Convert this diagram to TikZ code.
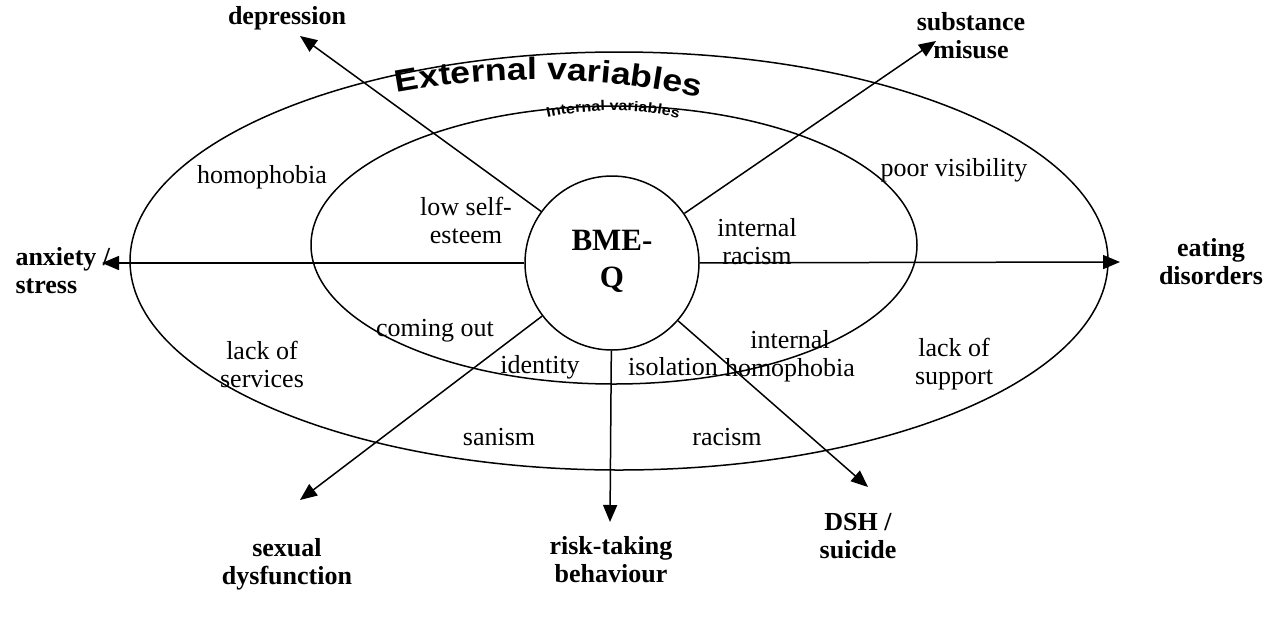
\documentclass[tikz,border=0pt]{standalone}
\usepackage{fontspec}
\setmainfont{Liberation Serif}
\newfontfamily\wordart{Liberation Sans}[FakeStretch=1.15]
\usetikzlibrary{arrows.meta,positioning,shapes,decorations.text}

\begin{document}
\begin{tikzpicture}[x=1pt,y=-1pt,
  ring/.style={draw,ellipse,line width=1.5pt,inner sep=0pt},
  arr/.style={-{Triangle[length=17pt,width=14pt]},line width=1.5pt},
  lbl/.style={align=center,font=\fontsize{26}{28}\selectfont},
  goal/.style={align=center,font=\fontsize{26}{28}\selectfont\bfseries}]
\useasboundingbox (0,0) rectangle (1269,619);
% rings
\node[ring,minimum width=978pt,minimum height=418pt] (outer) at (619,261) {};
\node[ring,minimum width=606pt,minimum height=278pt] (inner) at (614,245) {};
\node[ring,minimum width=174pt,minimum height=174pt] (bme) at (612,263) {};
\node[align=center,font=\fontsize{31}{37}\selectfont\bfseries] (bmeq) at (612,261) {BME-\\Q};
% word art titles
\path[decorate,decoration={text along path,text align=center,
  text={|\wordart\bfseries\fontsize{31}{31}\selectfont|External variables}}]
  (385,95) .. controls (490,74) and (600,74) .. (712,100);
\path[decorate,decoration={text along path,text align=center,
  text={|\wordart\bfseries\fontsize{14}{14}\selectfont|Internal variables}}]
  (546,118) .. controls (590,108) and (640,108) .. (680,119);
% outcomes
\coordinate (tdep) at (300,36);
\coordinate (tsub) at (936,41);
\coordinate (tanx) at (102,263);
\coordinate (teat) at (1120,262);
\coordinate (tsex) at (300,500);
\coordinate (trisk) at (610,522);
\coordinate (tdsh) at (868,487);
\node[goal] (dep) at (287,18) {depression};
\node[goal] (sub) at (971,36) {substance\\misuse};
\node[goal,align=left,anchor=west] (anx) at (12,271) {anxiety /\\stress};
\node[goal] (eat) at (1211,262) {eating\\disorders};
\node[goal] (sex) at (287,564) {sexual\\dysfunction};
\node[goal] (risk) at (611,560) {risk-taking\\behaviour};
\node[goal] (dsh) at (858,536) {DSH /\\suicide};
\draw[arr] (bme) -- (tdep);
\draw[arr] (bme) -- (tsub);
\draw[arr] (bme) -- (tanx);
\draw[arr] (bme) -- (teat);
\draw[arr] (bme) -- (tsex);
\draw[arr] (bme) -- (trisk);
\draw[arr] (bme) -- (tdsh);
% variables
\node[lbl] (homo) at (262,177) {homophobia};
\node[lbl] (vis) at (954,170) {poor visibility};
\node[lbl] (self) at (466,220) {low self-\\esteem};
\node[lbl] (iracism) at (757,242) {internal\\racism};
\node[lbl] (comeout) at (435,331) {coming out};
\node[lbl] (ihomo) at (790,356) {internal\\homophobia};
\node[lbl] (serv) at (262,364) {lack of\\services};
\node[lbl] (ident) at (540,367) {identity};
\node[lbl] (isol) at (673,367) {isolation};
\node[lbl] (san) at (499,437) {sanism};
\node[lbl] (racism) at (727,437) {racism};
\node[lbl] (supp) at (954,364) {lack of\\support};
\end{tikzpicture}
\end{document}
